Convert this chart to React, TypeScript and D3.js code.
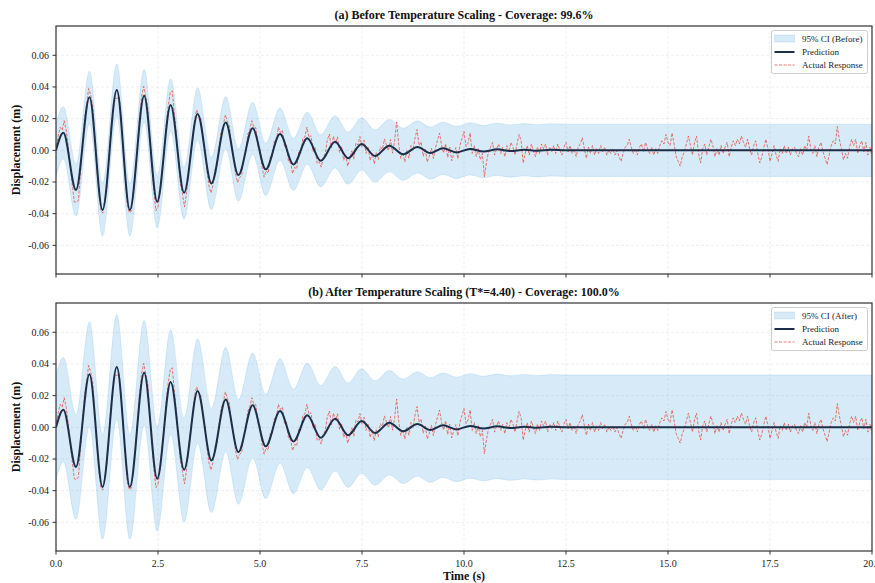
import React from "react";
import * as d3 from "d3";

// ---------------- DATA ----------------
const DT = 0.05; // sampling step of the actual response (s)

// Actual response (m), one row per second, 20 samples per row, t = i * DT
const actualResponse: number[] = [
  0.0000, 0.0087, 0.0145, 0.0127, 0.0187, 0.0127, 0.0023, -0.0107, -0.0220, -0.0326, -0.0330, -0.0314, -0.0135, 0.0048, 0.0204, 0.0291, 0.0390, 0.0350, 0.0281, 0.0093,
  -0.0110, -0.0258, -0.0380, -0.0395, -0.0303, -0.0229, -0.0039, 0.0149, 0.0254, 0.0327, 0.0329, 0.0337, 0.0190, -0.0018, -0.0187, -0.0353, -0.0395, -0.0384, -0.0245, -0.0138,
  0.0053, 0.0215, 0.0343, 0.0404, 0.0340, 0.0272, 0.0065, -0.0107, -0.0267, -0.0381, -0.0359, -0.0269, -0.0126, -0.0015, 0.0164, 0.0278, 0.0365, 0.0376, 0.0230, 0.0104,
  -0.0066, -0.0212, -0.0278, -0.0357, -0.0268, -0.0134, -0.0011, 0.0074, 0.0206, 0.0256, 0.0212, 0.0203, 0.0070, 0.0000, -0.0124, -0.0228, -0.0269, -0.0217, -0.0119, -0.0096,
  0.0029, 0.0120, 0.0158, 0.0224, 0.0183, 0.0152, 0.0015, -0.0038, -0.0145, -0.0203, -0.0172, -0.0160, -0.0047, -0.0012, 0.0101, 0.0131, 0.0187, 0.0144, 0.0142, 0.0028,
  0.0005, -0.0103, -0.0170, -0.0130, -0.0145, -0.0041, -0.0044, 0.0056, 0.0058, 0.0146, 0.0113, 0.0128, 0.0025, 0.0032, -0.0073, -0.0078, -0.0147, -0.0107, -0.0118, -0.0007,
  -0.0019, 0.0076, 0.0084, 0.0146, 0.0081, 0.0092, -0.0008, 0.0018, -0.0082, -0.0071, -0.0106, -0.0047, -0.0019, 0.0066, 0.0103, 0.0015, 0.0090, 0.0044, 0.0085, -0.0014,
  0.0022, -0.0063, -0.0031, -0.0100, -0.0057, -0.0004, -0.0056, 0.0046, 0.0034, 0.0087, 0.0020, 0.0064, -0.0019, 0.0024, -0.0064, -0.0018, -0.0085, -0.0015, -0.0059, 0.0023,
  0.0007, 0.0072, 0.0033, -0.0002, 0.0068, -0.0018, 0.0062, 0.0179, 0.0038, -0.0051, -0.0015, -0.0074, 0.0001, -0.0050, 0.0031, 0.0000, 0.0078, 0.0131, 0.0030, 0.0053,
  -0.0037, 0.0013, -0.0074, -0.0037, 0.0013, -0.0052, 0.0015, 0.0063, 0.0109, 0.0032, -0.0017, 0.0041, -0.0045, 0.0020, -0.0066, -0.0021, 0.0017, -0.0053, 0.0030, 0.0074,
  0.0119, 0.0024, 0.0047, 0.0109, -0.0020, 0.0030, -0.0040, 0.0010, -0.0060, -0.0020, -0.0167, -0.0080, -0.0010, 0.0020, 0.0050, -0.0030, 0.0010, 0.0040, -0.0020, 0.0020,
  -0.004, 0.003, -0.001, 0.005, 0.002, -0.003, 0.004, 0.010, 0.006, -0.008, -0.002, 0.003, -0.003, 0.004, 0.000, -0.004, 0.002, -0.002, 0.004, 0.001,
  0.004, -0.003, 0.002, -0.001, 0.003, -0.002, 0.004, 0.000, -0.003, 0.002, 0.005, -0.001, 0.003, -0.002, 0.001, -0.004, 0.002, 0.004, 0.008, 0.001,
  -0.005, 0.002, -0.002, 0.003, -0.003, 0.001, -0.002, 0.003, -0.001, 0.002, -0.003, 0.000, -0.002, 0.001, -0.003, 0.000, -0.004, -0.007, -0.002, 0.002,
  0.003, 0.007, 0.002, -0.002, 0.001, -0.003, 0.002, 0.004, -0.001, 0.005, 0.001, -0.002, 0.002, -0.003, 0.001, -0.002, 0.003, 0.006, 0.004, 0.010,
  0.005, 0.003, 0.011, 0.004, -0.004, -0.007, -0.010, -0.004, -0.001, 0.004, 0.009, 0.003, -0.003, 0.005, 0.009, -0.002, -0.008, 0.001, 0.004, -0.003,
  0.002, 0.007, 0.003, -0.004, 0.001, -0.003, 0.003, -0.002, 0.002, 0.005, -0.004, 0.002, 0.006, 0.003, 0.007, 0.004, 0.009, 0.005, 0.002, 0.007,
  0.001, -0.003, 0.003, 0.006, -0.002, -0.008, -0.004, 0.002, 0.007, 0.001, -0.007, -0.002, 0.003, -0.003, -0.007, 0.001, -0.002, 0.003, -0.002, 0.002,
  -0.003, 0.001, 0.002, -0.002, -0.004, 0.001, -0.003, 0.003, 0.000, 0.009, 0.001, -0.002, 0.003, -0.004, 0.002, 0.005, -0.001, -0.005, -0.009, -0.003,
  0.003, 0.006, 0.004, 0.015, 0.007, 0.001, -0.006, -0.002, -0.005, 0.002, 0.007, 0.003, 0.007, -0.002, 0.003, 0.006, -0.001, 0.005, -0.003, 0.002,
  -0.004,
];

// Prediction: extrema of the damped oscillation (s, m)
const predTimes: number[] = [
  0, 0.18, 0.49, 0.82, 1.14, 1.49, 1.81, 2.16, 2.48, 2.81, 3.14, 3.47, 3.81, 4.16, 4.47,
  4.82, 5.14, 5.49, 5.82, 6.16, 6.49, 6.84, 7.16, 7.49, 7.82, 8.17, 8.51, 8.86, 9.17,
  9.49, 9.82, 10.15, 10.48, 10.81, 11.14, 11.47, 11.8, 12.13, 12.5, 20,
];
const predValues: number[] = [
  0, 0.0111, -0.0251, 0.0335, -0.0377, 0.0381, -0.0377, 0.0345, -0.0324, 0.0286, -0.0268,
  0.023, -0.0209, 0.0175, -0.0156, 0.0139, -0.012, 0.0103, -0.0089, 0.0076, -0.0066, 0.0054,
  -0.005, 0.004, -0.0036, 0.0029, -0.0025, 0.0021, -0.0017, 0.0013, -0.0013, 0.0009, -0.0008,
  0.0006, -0.0005, 0.0004, -0.0003, 0.0003, 0, 0,
];

// 95% CI half-widths (m)
const ciHalfBefore = 0.0165;
const ciHalfAfter = 0.033;

const yTicks: number[] = [-0.06, -0.04, -0.02, 0, 0.02, 0.04, 0.06];
const xTicks: number[] = [0, 2.5, 5, 7.5, 10, 12.5, 15, 17.5, 20];

const panelTitles: string[] = [
  "(a) Before Temperature Scaling - Coverage: 99.6%",
  "(b) After Temperature Scaling (T*=4.40) - Coverage: 100.0%",
];
const ciLabels: string[] = ["95% CI (Before)", "95% CI (After)"];
const ciHalfWidths: number[] = [ciHalfBefore, ciHalfAfter];

// ---------------- LAYOUT ----------------
const W = 875;
const H = 583;
const LEFT = 56;
const RIGHT = 872;
const PANEL_TOPS = [26, 303];
const PANEL_H = 248;
const FONT = "'Liberation Serif', 'Times New Roman', serif";

const BAND = "#3498db";
const PRED = "#1c2f4a";
const ACT = "#e74c3c";

const fmtY = (v: number) => {
  const s = Math.abs(v).toFixed(2);
  return v < -1e-9 ? "-" + s : s;
};

function Panel({ idx }: { idx: number }) {
  const top = PANEL_TOPS[idx];
  const bottom = top + PANEL_H;
  const x = d3.scaleLinear().domain([0, 20]).range([LEFT, RIGHT]);
  const y = d3.scaleLinear().domain([-0.0781, 0.0785]).range([bottom, top]);
  const half = ciHalfWidths[idx];

  const predPts = predTimes.map((t, i) => [t, predValues[i]] as [number, number]);
  const area = d3
    .area<[number, number]>()
    .x((d) => x(d[0]))
    .y0((d) => y(d[1] - half))
    .y1((d) => y(d[1] + half))
    .curve(d3.curveMonotoneX);
  const predLine = d3
    .line<[number, number]>()
    .x((d) => x(d[0]))
    .y((d) => y(d[1]))
    .curve(d3.curveMonotoneX);
  const actLine = d3
    .line<number>()
    .x((_, i) => x(i * DT))
    .y((d) => y(d));

  const clipId = `clip${idx}`;
  const isBottom = idx === 1;
  const lx = 771.5;
  const ly = top + 4.5;

  return (
    <g>
      <defs>
        <clipPath id={clipId}>
          <rect x={LEFT} y={top} width={RIGHT - LEFT} height={PANEL_H} />
        </clipPath>
      </defs>
      {/* grid */}
      {yTicks.map((v) => (
        <line key={"gy" + v} x1={LEFT} x2={RIGHT} y1={y(v)} y2={y(v)} stroke="#c8c8c8" strokeOpacity={0.35} strokeWidth={0.8} strokeDasharray="3,2" />
      ))}
      {xTicks.map((v) => (
        <line key={"gx" + v} x1={x(v)} x2={x(v)} y1={top} y2={bottom} stroke="#c8c8c8" strokeOpacity={0.35} strokeWidth={0.8} strokeDasharray="3,2" />
      ))}
      <g clipPath={`url(#${clipId})`}>
        <path d={area(predPts) || ""} fill={BAND} fillOpacity={0.2} stroke={BAND} strokeOpacity={0.15} strokeWidth={1} />
        <path d={actLine(actualResponse) || ""} fill="none" stroke={ACT} strokeOpacity={0.75} strokeWidth={1} strokeDasharray="3,1.5" />
        <path d={predLine(predPts) || ""} fill="none" stroke={PRED} strokeWidth={2} />
      </g>
      {/* spines */}
      <rect x={LEFT} y={top} width={RIGHT - LEFT} height={PANEL_H} fill="none" stroke="#333" strokeWidth={1.2} />
      {/* y ticks */}
      {yTicks.map((v) => (
        <g key={"ty" + v}>
          <line x1={LEFT - 3.5} x2={LEFT} y1={y(v)} y2={y(v)} stroke="#333" strokeWidth={1} />
          <text x={LEFT - 7} y={y(v)} dy="0.34em" textAnchor="end" fontSize={10} fontFamily={FONT} fill="#222">
            {fmtY(v)}
          </text>
        </g>
      ))}
      {/* x ticks */}
      {xTicks.map((v) => (
        <g key={"tx" + v}>
          <line x1={x(v)} x2={x(v)} y1={bottom} y2={bottom + 3.5} stroke="#333" strokeWidth={1} />
          {isBottom && (
            <text x={x(v)} y={bottom + 15.5} textAnchor="middle" fontSize={10} fontFamily={FONT} fill="#222">
              {v.toFixed(1)}
            </text>
          )}
        </g>
      ))}
      {/* title */}
      <text x={(LEFT + RIGHT) / 2} y={top - 7} textAnchor="middle" fontSize={12} fontWeight="bold" fontFamily={FONT} fill="#111">
        {panelTitles[idx]}
      </text>
      {/* y label */}
      <text transform={`translate(20, ${(top + bottom) / 2}) rotate(-90)`} textAnchor="middle" fontSize={12} fontWeight="bold" fontFamily={FONT} fill="#111">
        Displacement (m)
      </text>
      {isBottom && (
        <text x={(LEFT + RIGHT) / 2} y={bottom + 29} textAnchor="middle" fontSize={12} fontWeight="bold" fontFamily={FONT} fill="#111">
          Time (s)
        </text>
      )}
      {/* legend */}
      <g>
        <rect x={lx} y={ly} width={96} height={43} rx={2} fill="#fff" fillOpacity={0.85} stroke="#cccccc" strokeWidth={1} />
        <rect x={lx + 3} y={ly + 4.5} width={20} height={7} fill={BAND} fillOpacity={0.2} stroke={BAND} strokeOpacity={0.15} />
        <text x={lx + 30.5} y={ly + 8} dy="0.34em" fontSize={9} fontFamily={FONT} fill="#222">{ciLabels[idx]}</text>
        <line x1={lx + 3} x2={lx + 23} y1={ly + 21.5} y2={ly + 21.5} stroke={PRED} strokeWidth={2} />
        <text x={lx + 30.5} y={ly + 21.5} dy="0.34em" fontSize={9} fontFamily={FONT} fill="#222">Prediction</text>
        <line x1={lx + 3} x2={lx + 23} y1={ly + 34.5} y2={ly + 34.5} stroke={ACT} strokeOpacity={0.75} strokeWidth={1} strokeDasharray="3,1.5" />
        <text x={lx + 30.5} y={ly + 34.5} dy="0.34em" fontSize={9} fontFamily={FONT} fill="#222">Actual Response</text>
      </g>
    </g>
  );
}

export default function App() {
  return (
    <svg width={W} height={H} viewBox={`0 0 ${W} ${H}`} style={{ position: "absolute", left: 0, top: 0, background: "#fff" }}>
      <rect width={W} height={H} fill="#fff" />
      <Panel idx={0} />
      <Panel idx={1} />
    </svg>
  );
}
